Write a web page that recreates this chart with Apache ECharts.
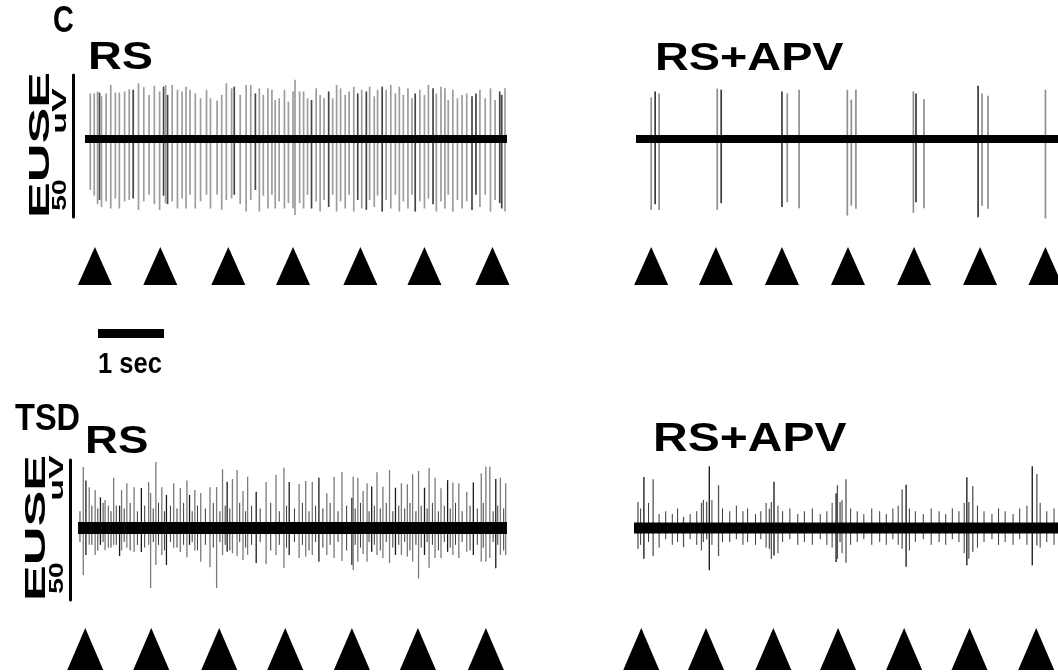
<!DOCTYPE html>
<html><head><meta charset="utf-8">
<script src="https://cdn.jsdelivr.net/npm/echarts@6/dist/echarts.min.js"></script>
<style>html,body{margin:0;padding:0;background:#fff}#c{width:1058px;height:672px}</style>
</head><body><div id="c"></div>
<script>
// ---- data: spikes as [time s, up µV, down µV, dark flag] ----
const rsSpikes = [
[0.08,16,18,0],[0.14,16,20,0],[0.19,16.7,23,0],[0.22,16.3,21.5,1],[0.25,15,24,0],[0.32,16,22,0],[0.39,19,24.5,0],[0.46,16.3,21,0],[0.52,16.3,24.5,0],[0.60,16.7,22,0],
[0.67,17.5,21.5,0],[0.73,17.3,21,1],[0.81,19.6,25,0],[0.89,18.2,22,0],[0.97,15.5,19.7,0],[1.05,18.7,23,0],[1.13,16.7,25,0],[1.19,18.4,20,1],[1.22,19,22.6,0],[1.25,15.5,23,1],
[1.32,19,22,0],[1.40,17.3,24.5,0],[1.47,16.7,21,0],[1.53,18.4,24.5,0],[1.59,17.3,19.7,0],[1.67,16,24.5,0],[1.75,14.3,22,0],[1.84,17.3,19.7,0],[1.90,14.3,24.5,0],[2.00,13.5,19.7,0],
[2.07,15.5,25,0],[2.14,19.6,21.5,0],[2.22,17.8,21,0],[2.26,18.4,19.7,1],[2.35,15.5,23,0],[2.44,19,25.6,0],[2.51,19,21.5,0],[2.58,16,18,1],[2.64,17.8,25.6,0],[2.70,15.5,20,0],
[2.77,17.8,24.5,0],[2.83,17.3,19.7,0],[2.88,13.7,24.5,0],[2.94,14.3,22,0],[3.02,17.3,24.5,0],[3.08,13.1,22.6,0],[3.15,16.7,24.5,0],[3.18,20.8,26.8,0],[3.25,16.7,22.6,0],[3.31,16.7,24.5,0],
[3.37,14.3,19.7,0],[3.43,13.7,24.5,1],[3.50,17.8,22,0],[3.56,15.5,25.6,0],[3.62,14.3,21.5,0],[3.69,16.7,24,1],[3.75,14.3,19.7,0],[3.81,19,25.6,0],[3.87,17.8,22,0],[3.94,15.5,24.5,0],
[4.00,16.7,19.7,0],[4.07,18.4,25.6,0],[4.13,16,21.5,1],[4.19,17.3,24.5,0],[4.26,16.7,25,1],[4.31,18.4,21.5,0],[4.38,15,24,0],[4.43,17.3,20,0],[4.50,18.4,25.6,1],[4.56,17.3,21.5,0],
[4.63,19,24.5,0],[4.70,16,19.7,0],[4.76,18.4,25.6,0],[4.82,15.5,22,0],[4.89,17.8,24.5,0],[4.95,14.3,19.7,0],[5.00,16,25.6,1],[5.07,17.3,22,0],[5.14,15.5,24.5,0],[5.20,19,21,0],
[5.27,17.8,23,1],[5.32,16,25.6,0],[5.39,18.4,22,0],[5.45,17.8,24.5,0],[5.50,13.7,19.7,0],[5.57,17.3,25.6,0],[5.64,14.3,21.5,0],[5.71,15.5,24.5,0],[5.78,16,22,0],[5.86,15,25,1],
[5.92,16,19.7,1],[5.98,17.3,24,0],[6.06,14.3,19.7,0],[6.14,17.8,25.6,0],[6.21,13.7,21.5,0],[6.28,16.7,22.6,1],[6.31,15.5,24.5,1],[6.36,17.8,25.6,0]
];
const rsApvSpikes = [
[0.23,14.6,25,0],[0.29,16.7,23,1],[0.35,16,25,0],
[1.23,17.7,25,0],[1.29,17.3,22.6,1],
[2.21,16.7,24,1],[2.29,16,22.3,0],[2.47,17.3,24.4,0],
[3.20,17.3,27,0],[3.26,13.8,23.5,0],[3.33,17.3,24.6,0],
[4.20,16.7,26,0],[4.24,16,22.3,1],[4.36,14,24.4,0],
[5.18,18.7,27.6,1],[5.24,16,23.5,0],[5.33,15.2,24.6,0],
[6.20,17.3,28,0]
];
const tsdRsSpikes = [
[0.08,21.8,16.8,0],[0.12,17,9.6,1],[0.17,14.6,6,0],[0.26,13.6,9.6,0],[0.34,11,6,1],[0.41,10,7.9,0],[0.46,8,7,0],[0.54,18,6,0],[0.63,8,10,1],[0.66,13.6,8,0],
[0.74,16,7,0],[0.85,14.6,8.6,0],[0.96,14.3,8.6,1],[1.07,16.4,6,0],[1.10,12.5,21.4,0],[1.18,23.6,13.2,0],[1.27,14.6,9.6,0],[1.34,11.8,13.2,1],[1.45,16,7,0],[1.55,14.3,8.6,0],
[1.65,17,10.4,0],[1.69,11.8,6,1],[1.77,13.6,8,0],[1.86,12.5,12,0],[2.00,14.6,14,0],[2.10,14.6,21.4,0],[2.19,21,9.6,0],[2.26,16.5,8.5,1],[2.34,17.5,9,0],[2.41,20.7,10,0],
[2.50,13.2,11.4,0],[2.57,18.3,9.6,0],[2.70,13,12.5,1],[2.85,16.4,12.9,0],[3.00,19,9.6,0],[3.12,21.5,14.3,0],[3.20,16.4,9.6,1],[3.35,15.7,10.7,0],[3.45,16.8,10.2,0],[3.55,16.4,9.6,0],
[3.65,18,12,1],[3.77,12.4,9.6,0],[3.88,18.3,10.7,0],[4.00,20,11.8,0],[4.15,10.8,13.2,1],[4.17,18.3,15,0],[4.24,18,12,0],[4.32,13.2,9.3,0],[4.38,16,12,0],[4.45,14.8,8.5,1],
[4.53,19.9,9.6,0],[4.62,14.8,10.7,0],[4.72,20.7,12.5,0],[4.81,14.4,9.6,1],[4.90,16,9.6,0],[4.99,15.6,10.2,0],[5.07,19.2,12,0],[5.16,20.4,18,0],[5.25,14.4,9.6,1],[5.32,21.5,14.2,0],
[5.41,18,10.7,0],[5.50,14.2,10.7,0],[5.60,17.1,8.5,1],[5.68,16.3,9.6,0],[5.77,16,10.7,0],[5.89,13,8.5,0],[5.99,16.3,9.6,1],[6.11,19.5,12,0],[6.18,21.9,12,0],[6.24,21.9,10.7,0],
[6.33,17.5,14.4,1],[6.40,18,9.6,0],[6.48,16,9.6,0]
];
const tsdRsHash = [
[0.03,6,5],[0.21,8,6],[0.30,7,8],[0.38,9,5],[0.50,6,7],[0.58,8,6],[0.70,7,5],[0.79,9,8],[0.90,6,6],[1.01,8,7],
[1.14,7,5],[1.22,9,6],[1.31,6,8],[1.40,8,5],[1.50,7,7],[1.60,9,6],[1.73,6,5],[1.81,8,8],[1.93,7,6],[2.05,9,7],
[2.15,6,5],[2.23,8,6],[2.30,7,8],[2.45,9,5],[2.54,6,7],[2.63,8,6],[2.76,7,5],[2.92,9,8],[3.05,6,6],[3.16,8,7],
[3.28,7,5],[3.40,9,6],[3.50,6,8],[3.60,8,5],[3.71,7,7],[3.82,9,6],[3.94,6,5],[4.07,8,8],[4.20,7,6],[4.28,9,7],
[4.41,6,5],[4.49,8,6],[4.58,7,8],[4.67,9,5],[4.77,6,7],[4.86,8,6],[4.95,7,5],[5.03,9,8],[5.12,6,6],[5.20,8,7],
[5.29,7,5],[5.37,9,6],[5.46,6,8],[5.55,8,5],[5.64,7,7],[5.72,9,6],[5.82,6,5],[5.94,8,8],[6.05,7,6],[6.14,9,7],
[6.29,6,5],[6.36,8,6],[6.45,7,8]
];
const tsdApvSpikes = [
[0.06,9.3,7.4,0],[0.15,18.2,11,1],[0.29,17.4,10,0],[0.75,4,6.8,0],
[1.05,10,5,0],[1.10,9.4,4,0],[1.14,22.1,15.1,1],[1.28,15.3,10,0],
[2.05,6.9,7.4,0],[2.08,9.3,11,0],[2.12,16.5,9.8,1],
[3.06,12.3,12.1,1],[3.08,15.3,11,0],[3.12,9.3,5,0],[3.21,17.4,12.4,0],
[4.06,13.8,7.4,0],[4.12,15.5,13.8,1],
[5.04,18.1,13.3,1],[5.07,9.3,11,0],[5.13,15,8.5,0],
[6.03,22.1,13.3,1],[6.10,19.3,6.2,0]
];
const tsdApvHash = [
[0.10,7,6],[0.22,9,5],[0.38,5,7],[0.48,6,4],[0.58,5,6],[0.66,7,5],[0.85,5,4],[0.95,6,6],[1.02,9,8],[1.18,10,6],
[1.34,7,5],[1.45,6,5],[1.55,8,4],[1.65,6,6],[1.72,7,5],[1.84,5,6],[1.92,6,4],[2.00,9,7],[2.18,8,9],[2.25,6,5],
[2.36,7,4],[2.48,5,6],[2.58,6,5],[2.70,7,6],[2.82,5,4],[2.92,6,6],[3.00,9,7],[3.15,10,9],[3.28,7,6],[3.38,6,5],
[3.48,5,4],[3.60,7,6],[3.72,6,5],[3.82,5,6],[3.92,7,4],[4.00,8,6],[4.17,7,8],[4.26,6,5],[4.38,5,4],[4.50,7,6],
[4.62,6,5],[4.72,5,6],[4.82,7,4],[4.92,6,5],[5.00,9,9],[5.20,8,7],[5.30,6,5],[5.42,5,4],[5.52,7,6],[5.62,6,5],
[5.74,5,6],[5.84,7,4],[5.95,8,6],[6.15,9,7],[6.25,6,5],[6.36,7,6]
];
const stimRs = [0.15,1.14,2.17,3.15,4.17,5.14,6.17];
const stimRsApv = [0.23,1.21,2.21,3.21,4.21,5.21,6.20];
const stimTsdRs = [0.11,1.11,2.14,3.14,4.15,5.15,6.18];
const stimTsdApv = [0.11,1.09,2.11,3.09,4.09,5.08,6.09];
const durations = [6.39, 6.39, 6.50, 6.42];   // seconds per trace
const yRangeTop = [-27.5, 22.5];              // µV (50 µV scale bar)
const yRangeBottom = [-25.7, 24.3];
const labels = { panel: 'C', group2: 'TSD', rs: 'RS', apv: 'RS+APV', yName: 'EUSE', yUnit1: '50', yUnit2: 'uV', time: '1 sec' };

// ---- layout ----
const panels = [
  { left: 85,  top: 75,  w: 422, h: 142, yr: yRangeTop,    dur: durations[0], spikes: rsSpikes,     hash: null,       stim: stimRs,     triTop: 247, triH: 38, triW: 34, bar: 12, gray: '#9d9d9d', dark: '#454545', lw: 1.7, band: 8 },
  { left: 636, top: 75,  w: 422, h: 142, yr: yRangeTop,    dur: durations[1], spikes: rsApvSpikes,  hash: null,       stim: stimRsApv,  triTop: 247, triH: 38, triW: 34, bar: 0,  gray: '#8f8f8f', dark: '#3a3a3a', lw: 1.7, band: 8 },
  { left: 78,  top: 460, w: 429, h: 140, yr: yRangeBottom, dur: durations[2], spikes: tsdRsSpikes,  hash: tsdRsHash,  stim: stimTsdRs,  triTop: 628, triH: 42, triW: 36, bar: 8,  gray: '#7a7a7a', dark: '#1a1a1a', lw: 1.3, band: 12 },
  { left: 634, top: 460, w: 424, h: 140, yr: yRangeBottom, dur: durations[3], spikes: tsdApvSpikes, hash: tsdApvHash, stim: stimTsdApv, triTop: 628, triH: 42, triW: 36, bar: 0,  gray: '#555555', dark: '#111111', lw: 1.3, band: 11 }
];

function spikeRender(gray, dark, lw) {
  return function (params, api) {
    const t = api.value(0), up = api.value(1), dn = api.value(2), d = api.value(3);
    const a = api.coord([t, up]), b = api.coord([t, -dn]);
    return { type: 'line', shape: { x1: a[0], y1: a[1], x2: b[0], y2: b[1] },
             style: { stroke: d === 1 ? dark : gray, lineWidth: lw } };
  };
}

const grid = [], xAxis = [], yAxis = [], series = [];
panels.forEach((p, i) => {
  const gi = grid.length;
  grid.push({ left: p.left, top: p.top, width: p.w, height: p.h });
  xAxis.push({ type: 'value', gridIndex: gi, min: 0, max: p.dur, show: false });
  yAxis.push({ type: 'value', gridIndex: gi, min: p.yr[0], max: p.yr[1], show: p.bar > 0, offset: p.bar,
    axisLine: { show: true, onZero: false, lineStyle: { color: '#000', width: 3 } },
    axisTick: { show: false }, axisLabel: { show: false }, splitLine: { show: false } });
  series.push({ type: 'custom', xAxisIndex: gi, yAxisIndex: gi, clip: false, silent: true, z: 2,
    renderItem: spikeRender(p.gray, p.dark, p.lw), encode: { x: 0, y: [1, 2] }, data: p.spikes });
  if (p.hash) {
    series.push({ type: 'custom', xAxisIndex: gi, yAxisIndex: gi, clip: false, silent: true, z: 3,
      renderItem: spikeRender('#3a3a3a', '#000', 1), encode: { x: 0, y: [1, 2] }, data: p.hash });
  }
  series.push({ type: 'line', xAxisIndex: gi, yAxisIndex: gi, symbol: 'none', silent: true, z: 4,
    lineStyle: { color: '#000', width: p.band }, data: [[0, 0], [p.dur, 0]] });
  // stimulus triangles grid
  const ti = grid.length;
  grid.push({ left: p.left, top: p.triTop, width: p.w, height: p.triH });
  xAxis.push({ type: 'value', gridIndex: ti, min: 0, max: p.dur, show: false });
  yAxis.push({ type: 'value', gridIndex: ti, min: 0, max: 1, show: false });
  series.push({ type: 'scatter', xAxisIndex: ti, yAxisIndex: ti, clip: false, silent: true,
    symbol: 'triangle', symbolSize: [p.triW, p.triH], itemStyle: { color: '#000', opacity: 1 },
    data: p.stim.map(t => [t, 0.5]) });
});

const FONT = '"Liberation Sans", Arial, Helvetica, sans-serif';
function txt(text, x, y, size, sx, align, rot) {
  return { type: 'text', x: x, y: y, scaleX: sx, scaleY: 1, rotation: rot || 0, silent: true,
    style: { text: text, font: 'bold ' + size + 'px ' + FONT, fill: '#000',
      align: align || 'left', verticalAlign: 'middle', textAlign: align || 'left', textVerticalAlign: 'middle' } };
}
const R90 = Math.PI / 2;
const graphic = [
  txt(labels.panel, 63.5, 22, 36, 0.8, 'center'),
  txt(labels.rs, 88, 58, 39, 1.2, 'left'),
  txt(labels.apv, 655, 59, 39, 1.2, 'left'),
  txt(labels.group2, 15, 420, 37, 0.88, 'left'),
  txt(labels.rs, 85, 443, 38, 1.2, 'left'),
  txt(labels.apv, 653, 440, 40, 1.2, 'left'),
  txt(labels.time, 130, 365, 30, 0.85, 'center'),
  // vertical scale labels (top)
  txt(labels.yName, 41, 145, 29, 1.85, 'center', R90),
  txt(labels.yUnit1, 60, 195, 21, 1.35, 'center', R90),
  txt(labels.yUnit2, 60, 111, 21, 1.7, 'center', R90),
  // vertical scale labels (bottom)
  txt(labels.yName, 37, 528, 29, 1.85, 'center', R90),
  txt(labels.yUnit1, 57, 578, 21, 1.35, 'center', R90),
  txt(labels.yUnit2, 57, 478, 21, 1.7, 'center', R90),
  // 1 sec scale bar
  { type: 'rect', silent: true, shape: { x: 98, y: 329, width: 66, height: 9 }, style: { fill: '#000' } }
];

const chart = echarts.init(document.getElementById('c'), null, { renderer: 'canvas' });
chart.setOption({ animation: false, backgroundColor: '#fff', grid, xAxis, yAxis, series, graphic });
</script></body></html>
